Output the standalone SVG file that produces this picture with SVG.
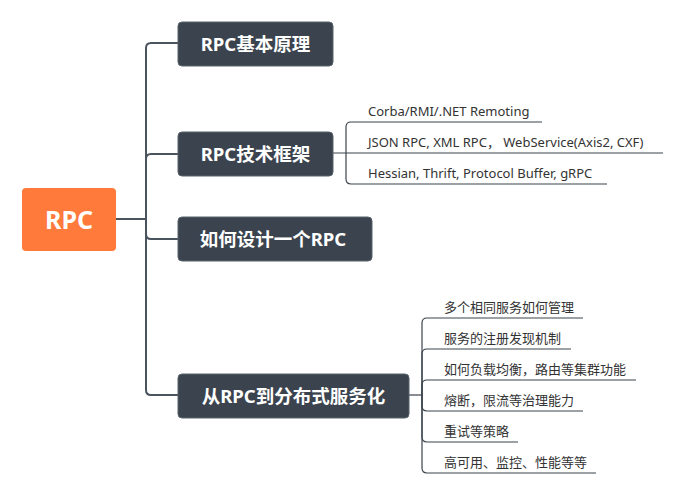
<svg xmlns="http://www.w3.org/2000/svg" width="683" height="494" viewBox="0 0 683 494">
<style>
.bg{fill:#ffffff}
.topic{fill:#3b444e;stroke:#59636d;stroke-width:1}
.tt{font-family:"Noto Sans","Noto Sans CJK SC",sans-serif;font-weight:bold;font-size:18.5px;fill:#ffffff;text-anchor:middle}
.root{fill:#ff7a3b}
.rt{font-family:"Noto Sans","Noto Sans CJK SC",sans-serif;font-weight:bold;font-size:25px;fill:#ffffff;text-anchor:middle}
.ln{fill:none;stroke:#4a545e;stroke-width:2}
.sl{fill:none;stroke:#3b444e;stroke-width:1.2}
.st{font-family:"Noto Sans","Noto Sans CJK SC",sans-serif;font-size:13px;fill:#333333}
</style>
<rect class="bg" x="0" y="0" width="683" height="494"/>
<g id="connectors">
<path class="ln" d="M116,219 H146" stroke-width="3"/>
<path class="ln" d="M146,219 V48 Q146,43 151,43 H178"/>
<path class="ln" d="M146,219 V159 Q146,154 151,154 H178"/>
<path class="ln" d="M146,219 V234 Q146,239 151,239 H178"/>
<path class="ln" d="M146,219 V390 Q146,395 151,395 H178"/>
<path class="sl" d="M333,153 H663"/>
<path class="sl" d="M346,153 V127 Q346,122 351,122 H542"/>
<path class="sl" d="M346,153 V179 Q346,184 351,184 H607"/>
<path class="sl" d="M409,395 H422"/>
<path class="sl" d="M422,395 V323 Q422,318 427,318 H583"/>
<path class="sl" d="M422,395 V354 Q422,349 427,349 H571"/>
<path class="sl" d="M422,395 V385 Q422,380 427,380 H636"/>
<path class="sl" d="M422,395 V406 Q422,411 427,411 H583"/>
<path class="sl" d="M422,395 V437 Q422,442 427,442 H518"/>
<path class="sl" d="M422,395 V468 Q422,473 427,473 H596"/>
</g>
<g id="root">
<rect class="root" x="22" y="188" width="94" height="63" rx="4"/>
<text class="rt" x="69" y="229">RPC</text>
</g>
<g id="n1">
<rect class="topic" x="178" y="22" width="155" height="44" rx="4"/>
<text class="tt" x="255.5" y="50.5">RPC基本原理</text>
</g>
<g id="n2">
<rect class="topic" x="178" y="132" width="155" height="44" rx="4"/>
<text class="tt" x="255.5" y="160.5">RPC技术框架</text>
</g>
<g id="n3">
<rect class="topic" x="178" y="217" width="194" height="44" rx="4"/>
<text class="tt" x="273" y="245.5">如何设计一个RPC</text>
</g>
<g id="n4">
<rect class="topic" x="178" y="374" width="231" height="44" rx="4"/>
<text class="tt" x="293.5" y="402.5">从RPC到分布式服务化</text>
</g>
<g id="n2-items">
<text class="st" x="368" y="116">Corba/RMI/.NET Remoting</text>
<text class="st" x="368" y="147" xml:space="preserve">JSON RPC, XML RPC， WebService(Axis2, CXF)</text>
<text class="st" x="368" y="178">Hessian, Thrift, Protocol Buffer, gRPC</text>
</g>
<g id="n4-items">
<text class="st" x="444" y="312">多个相同服务如何管理</text>
<text class="st" x="444" y="343">服务的注册发现机制</text>
<text class="st" x="444" y="374">如何负载均衡，路由等集群功能</text>
<text class="st" x="444" y="405">熔断，限流等治理能力</text>
<text class="st" x="444" y="436">重试等策略</text>
<text class="st" x="444" y="467">高可用、监控、性能等等</text>
</g>
</svg>
